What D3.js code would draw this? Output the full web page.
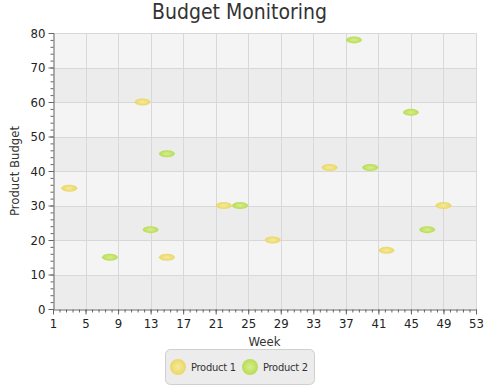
<!DOCTYPE html>
<html>
<head>
<meta charset="utf-8">
<script src="https://cdn.jsdelivr.net/npm/d3@7"></script>
<style>
  body { margin: 0; background: #fff; }
  svg text { font-family: "DejaVu Sans Condensed", "DejaVu Sans", sans-serif; fill: #333; }
</style>
</head>
<body>
<div id="chart"></div>
<script>
// Budget Monitoring scatter chart
const seriesNames = ["Product 1", "Product 2"];
const product1Weeks = [3, 12, 15, 22, 28, 35, 42, 49];
const product1Budget = [35, 60, 15, 30, 20, 41, 17, 30];
const product2Weeks = [8, 13, 15, 24, 38, 40, 45, 47];
const product2Budget = [15, 23, 45, 30, 78, 41, 57, 23];
const xTicks = [1, 5, 9, 13, 17, 21, 25, 29, 33, 37, 41, 45, 49, 53];
const yTicks = [0, 10, 20, 30, 40, 50, 60, 70, 80];

const width = 487, height = 389;
const margin = {top: 33, right: 11, bottom: 80, left: 53};
const colors = [{base: "#e8d35c", light: "#f5ea9c"}, {base: "#b3d84a", light: "#d6ee8e"}];

const svg = d3.select("#chart").append("svg")
  .attr("width", width).attr("height", height);

const defs = svg.append("defs");
colors.forEach((c, i) => {
  const g = defs.append("radialGradient").attr("id", "grad" + i)
    .attr("cx", "50%").attr("cy", "50%").attr("r", "60%");
  g.append("stop").attr("offset", "0%").attr("stop-color", c.light);
  g.append("stop").attr("offset", "100%").attr("stop-color", c.base);
});

const x = d3.scaleLinear().domain([1, 53]).range([margin.left, width - margin.right]);
const y = d3.scaleLinear().domain([0, 80]).range([height - margin.bottom, margin.top]);

// alternating bands
const bands = svg.append("g");
for (let i = 0; i < yTicks.length - 1; i++) {
  bands.append("rect")
    .attr("x", x(1)).attr("width", x(53) - x(1))
    .attr("y", y(yTicks[i + 1])).attr("height", y(yTicks[i]) - y(yTicks[i + 1]))
    .attr("fill", i % 2 === 0 ? "#ececec" : "#f4f4f4");
}

// grid lines
const grid = svg.append("g").attr("stroke", "#d8d8d8").attr("stroke-width", 1);
xTicks.slice(1).forEach(t => {
  grid.append("line").attr("x1", Math.round(x(t)) + 0.5).attr("x2", Math.round(x(t)) + 0.5)
    .attr("y1", y(80)).attr("y2", y(0));
});
yTicks.slice(1).forEach(t => {
  grid.append("line").attr("x1", x(1)).attr("x2", x(53))
    .attr("y1", Math.round(y(t)) + 0.5).attr("y2", Math.round(y(t)) + 0.5);
});

// minor ticks
const minorX = d3.range(1, 53.01, 0.8);
const minorY = d3.range(0, 80.01, 2);

const xAxis = svg.append("g")
  .attr("transform", "translate(0," + (y(0) + 0.5) + ")")
  .call(d3.axisBottom(x).tickValues(minorX).tickSize(3).tickFormat(""));
xAxis.append("g")
  .call(d3.axisBottom(x).tickValues(xTicks).tickSize(5).tickPadding(4).tickFormat(d3.format("d")));

const yAxis = svg.append("g")
  .attr("transform", "translate(" + (x(1) + 0.5) + ",0)")
  .call(d3.axisLeft(y).tickValues(minorY).tickSize(3).tickFormat(""));
yAxis.append("g")
  .call(d3.axisLeft(y).tickValues(yTicks).tickSize(5).tickPadding(3).tickFormat(d3.format("d")));

svg.selectAll(".domain").attr("stroke", "#666");
svg.selectAll(".tick line").attr("stroke", "#666");
svg.selectAll(".tick text").attr("font-size", 13).style("fill", "#222");
svg.selectAll(".domain").filter(function() { return this.parentNode.parentNode !== svg.node(); }).remove();

// axis titles
svg.append("text").attr("x", (x(1) + x(53)) / 2).attr("y", 346)
  .attr("text-anchor", "middle").attr("font-size", 13).text("Week");
svg.append("text").attr("transform", "translate(19," + ((y(0) + y(80)) / 2) + ") rotate(-90)")
  .attr("text-anchor", "middle").attr("font-size", 13).text("Product Budget");

// title
svg.append("text").attr("x", (x(1) + x(53)) / 2 - 25).attr("y", 19)
  .attr("text-anchor", "middle").attr("font-size", 21).text("Budget Monitoring");

// points
const series = [
  product1Weeks.map((w, i) => ({week: w, budget: product1Budget[i]})),
  product2Weeks.map((w, i) => ({week: w, budget: product2Budget[i]}))
];
series.forEach((data, s) => {
  svg.append("g").selectAll("ellipse").data(data).enter().append("ellipse")
    .attr("cx", d => x(d.week)).attr("cy", d => y(d.budget))
    .attr("rx", 8).attr("ry", 3.5)
    .attr("fill", "url(#grad" + s + ")");
});

// legend
const legend = svg.append("g");
legend.append("rect").attr("x", 165.5).attr("y", 349.5).attr("width", 149).attr("height", 35)
  .attr("rx", 5).attr("fill", "#ececec").attr("stroke", "#cfcfcf");
const legendX = [178, 250];
seriesNames.forEach((name, i) => {
  legend.append("circle").attr("cx", legendX[i]).attr("cy", 367).attr("r", 8)
    .attr("fill", "url(#grad" + i + ")");
  legend.append("text").attr("x", legendX[i] + 13).attr("y", 371)
    .attr("font-size", 11).attr("textLength", 45).text(name);
});
</script>
</body>
</html>
